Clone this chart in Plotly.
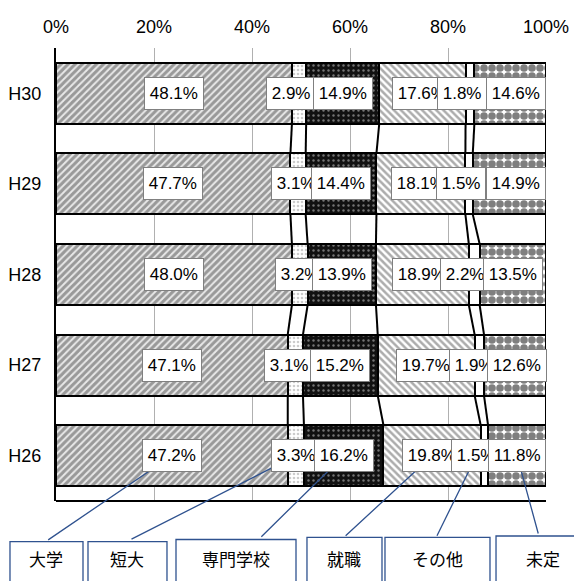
import plotly.graph_objects as go

# ---------------- data ----------------
years = ["H26", "H27", "H28", "H29", "H30"]          # bottom -> top
categories = ["大学", "短大", "専門学校", "就職", "その他", "未定"]
daigaku  = [47.2, 47.1, 48.0, 47.7, 48.1]
tandai   = [3.3, 3.1, 3.2, 3.1, 2.9]
senmon   = [16.2, 15.2, 13.9, 14.4, 14.9]
shushoku = [19.8, 19.7, 18.9, 18.1, 17.6]
sonota   = [1.5, 1.9, 2.2, 1.5, 1.8]
mitei    = [11.8, 12.6, 13.5, 14.9, 14.6]
series = [daigaku, tandai, senmon, shushoku, sonota, mitei]
x_ticks = [0, 20, 40, 60, 80, 100]

# ---------------- styles ----------------
patterns = [
    dict(shape="/", fgcolor="#4a4a4a", bgcolor="#e8e8e8", size=5, solidity=0.6),
    dict(shape=".", fgcolor="#9a9a9a", bgcolor="white", size=4, solidity=0.35),
    dict(shape=".", fgcolor="#d8d8d8", bgcolor="#111111", size=5, solidity=0.18),
    dict(shape="\\", fgcolor="#5a5a5a", bgcolor="white", size=5, solidity=0.5),
    dict(shape="", fgcolor="white", bgcolor="white", size=5, solidity=0.1),
    dict(shape=".", fgcolor="#000000", bgcolor="white", size=8, solidity=0.72),
]
base_colors = ["#4a4a4a", "#9a9a9a", "#111111", "#5a5a5a", "white", "#000000"]
# label offsets (px) for crowded labels, per year H26..H30
label_xshift = {
    1: [0, -6, 0, -2, -8],
    4: [-8, -5, -9, -8, -8],
    5: [0, 2, 0, 7, 6],
}
BAR_W = 0.673
PX_PER_PCT = 4.9
LBL_FONT = dict(family="Liberation Sans, Arial, sans-serif", size=17, color="black")
AX_FONT = dict(family="Liberation Sans, Arial, sans-serif", size=18, color="black")
JP_FONT = dict(family="Noto Sans CJK JP, sans-serif", size=17, color="black")
CALLOUT_COLOR = "#2f528f"

ypos = list(range(len(years)))
totals = [sum(s[i] for s in series) for i in ypos]

fig = go.Figure()
for k, (name, vals) in enumerate(zip(categories, series)):
    fig.add_trace(go.Bar(
        y=ypos, x=vals, orientation="h", name=name, width=BAR_W,
        marker=dict(color=base_colors[k], pattern=patterns[k],
                    line=dict(color="black", width=2)),
        hoverinfo="x+name", showlegend=False,
    ))

# cumulative normalized boundaries
cum = []
for i in ypos:
    c, row = 0.0, []
    for s in series:
        c += s[i]
        row.append(c / totals[i] * 100)
    cum.append(row)

# series lines between adjacent bars
lx, ly = [], []
for i in range(len(years) - 1):
    for k in range(len(series)):
        lx += [cum[i + 1][k], cum[i][k], None]
        ly += [i + 1 - BAR_W / 2, i + BAR_W / 2, None]
fig.add_trace(go.Scatter(x=lx, y=ly, mode="lines", line=dict(color="black", width=2),
                         hoverinfo="skip", showlegend=False))

annotations = []
# leader lines from callouts to H26 labels (drawn first, under the labels)
callout_tails = [(-1.9, -0.94), (15.1, -0.93), (41.6, -0.91), (58.8, -0.90), (77.6, -0.90), (98.5, -0.875)]
for k in range(len(categories)):
    start = cum[0][k - 1] if k > 0 else 0.0
    cx = (start + cum[0][k]) / 2 + label_xshift.get(k, [0] * 5)[0] / PX_PER_PCT
    tx, ty = callout_tails[k]
    annotations.append(dict(
        x=cx, y=0, xref="x", yref="y", text="", showarrow=True,
        ax=tx, ay=ty, axref="x", ayref="y", arrowhead=0,
        arrowwidth=1.3, arrowcolor=CALLOUT_COLOR, standoff=0, startstandoff=0,
    ))

# data labels
for i in ypos:
    for k, s in enumerate(series):
        start = cum[i][k - 1] if k > 0 else 0.0
        cx = (start + cum[i][k]) / 2
        annotations.append(dict(
            x=cx, y=i, xref="x", yref="y",
            text="\u00a0" + f"{s[i]:.1f}%" + "\u00a0",
            showarrow=False, font=LBL_FONT, bgcolor="white",
            bordercolor="#808080", borderwidth=1, borderpad=0, height=31,
            xshift=label_xshift.get(k, [0] * 5)[i],
        ))

# callout boxes (paper coordinates, below the plot area): x0, x1, top
callout_boxes = [(-0.0939, 0.0551, -0.0898), (0.0653, 0.2265, -0.0898),
                 (0.2449, 0.4898, -0.0850), (0.5122, 0.6653, -0.0801),
                 (0.6714, 0.8857, -0.0801), (0.8980, 1.0900, -0.0773)]
CALLOUT_TEXT_Y = -0.128
shapes = [dict(type="line", xref="paper", yref="paper", x0=0, x1=1, y0=0, y1=0,
               line=dict(color="black", width=2))]
for k, name in enumerate(categories):
    x0, x1, top = callout_boxes[k]
    shapes.append(dict(type="rect", xref="paper", yref="paper", x0=x0, x1=x1,
                       y0=top, y1=-0.22, fillcolor="white",
                       line=dict(color=CALLOUT_COLOR, width=1.3), layer="above"))
    annotations.append(dict(
        x=(x0 + x1) / 2, y=CALLOUT_TEXT_Y, xref="paper", yref="paper", text=name,
        showarrow=False, xanchor="center", yanchor="middle", font=JP_FONT,
    ))

fig.update_layout(
    width=574, height=581,
    margin=dict(l=56, r=28, t=48, b=80, pad=0, autoexpand=False),
    barmode="stack", barnorm="percent",
    plot_bgcolor="white", paper_bgcolor="white",
    annotations=annotations,
    shapes=shapes,
    xaxis=dict(side="top", range=[0, 100], tickvals=x_ticks,
               ticktext=[f"{v}%" for v in x_ticks], tickfont=AX_FONT,
               showgrid=True, gridcolor="#b0b0b0", gridwidth=1,
               zeroline=False, showline=False, ticks="", ticklabelstandoff=10,
               automargin=False, fixedrange=True),
    yaxis=dict(range=[-0.5, 4.5], tickvals=ypos, ticktext=years, tickfont=AX_FONT,
               showgrid=False, zeroline=False, showline=True, linecolor="black",
               linewidth=2, ticks="", ticklabelstandoff=9, automargin=False,
               fixedrange=True),
)

fig.write_html("out.html")
